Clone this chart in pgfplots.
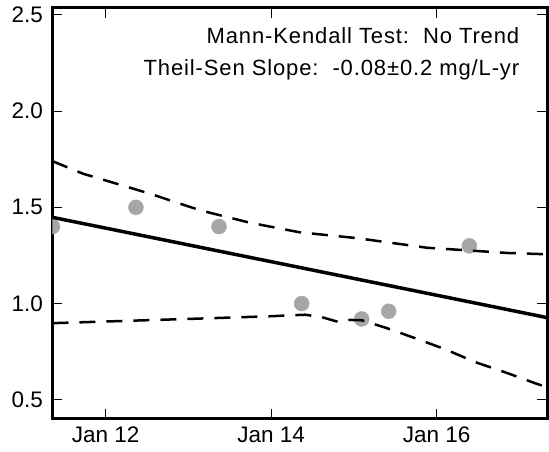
\documentclass[border=0pt]{standalone}
\usepackage{pgfplots}
\pgfplotsset{compat=1.18}
\usepackage{fontspec}
\setmainfont{Liberation Sans}
\definecolor{ptgray}{RGB}{166,166,166}

\begin{document}
\begin{tikzpicture}
\begin{axis}[
    scale only axis,
    width=494.5pt, height=411pt,
    xmin=2011.356, xmax=2017.335,
    ymin=0.4, ymax=2.536,
    xtick={2012,2014,2016},
    xticklabels={Jan 12,Jan 14,Jan 16},
    ytick={0.5,1.0,1.5,2.0,2.5},
    /pgf/number format/fixed,
    /pgf/number format/fixed zerofill,
    /pgf/number format/precision=1,
    /pgf/number format/assume math mode=true,
    tick label style={font=\fontsize{22.5}{24}\selectfont},
    tick align=inside,
    major tick length=10pt,
    tick style={line width=1pt, black},
    axis line style={line width=3pt},
    clip marker paths=true,
    xticklabel style={yshift=-4pt},
    yticklabel style={xshift=-6pt},
]
% observations
\addplot[only marks, color=ptgray, mark=*, mark size=7.5pt, mark options={fill=ptgray, draw=ptgray}] coordinates {
    (2011.356,1.40) (2012.365,1.50) (2013.369,1.40) (2014.369,1.00)
    (2015.094,0.92) (2015.421,0.96) (2016.396,1.30) (2017.344,0.955)
};
% Theil-Sen trend
\addplot[black, line width=3.5pt] coordinates {
    (2011.356,1.448) (2017.335,0.927)
};
% upper confidence band
\addplot[black, line width=2.5pt, dash pattern=on 16pt off 11pt] coordinates {
    (2011.356,1.740) (2011.724,1.675) (2012.534,1.571) (2013.139,1.485)
    (2013.744,1.420) (2014.348,1.370) (2015.037,1.340) (2015.884,1.290)
    (2016.851,1.263) (2017.335,1.256)
};
% lower confidence band
\addplot[black, line width=2.5pt, dash pattern=on 16pt off 11pt] coordinates {
    (2011.356,0.898) (2013.139,0.922) (2013.986,0.934) (2014.409,0.942)
    (2014.614,0.929) (2014.808,0.905) (2014.953,0.915) (2015.098,0.913)
    (2015.400,0.872) (2015.739,0.820) (2016.102,0.763) (2016.464,0.696)
    (2016.827,0.643) (2017.190,0.586) (2017.335,0.565)
};
\node[anchor=base east, font=\fontsize{22}{24}\selectfont\addfontfeature{LetterSpace=4}]
    at (axis description cs:0.951,0.914) {Mann-Kendall Test:\ \ No Trend};
\node[anchor=base east, font=\fontsize{22}{24}\selectfont\addfontfeature{LetterSpace=4}]
    at (axis description cs:0.951,0.835) {Theil-Sen Slope:\ \ -0.08\textpm0.2 mg/L-yr};
\end{axis}
\pgfresetboundingbox
\path[use as bounding box] ([xshift=-52.5pt,yshift=-33pt]current axis.south west)
    rectangle ([xshift=2pt,yshift=8pt]current axis.north east);
\end{tikzpicture}
\end{document}
